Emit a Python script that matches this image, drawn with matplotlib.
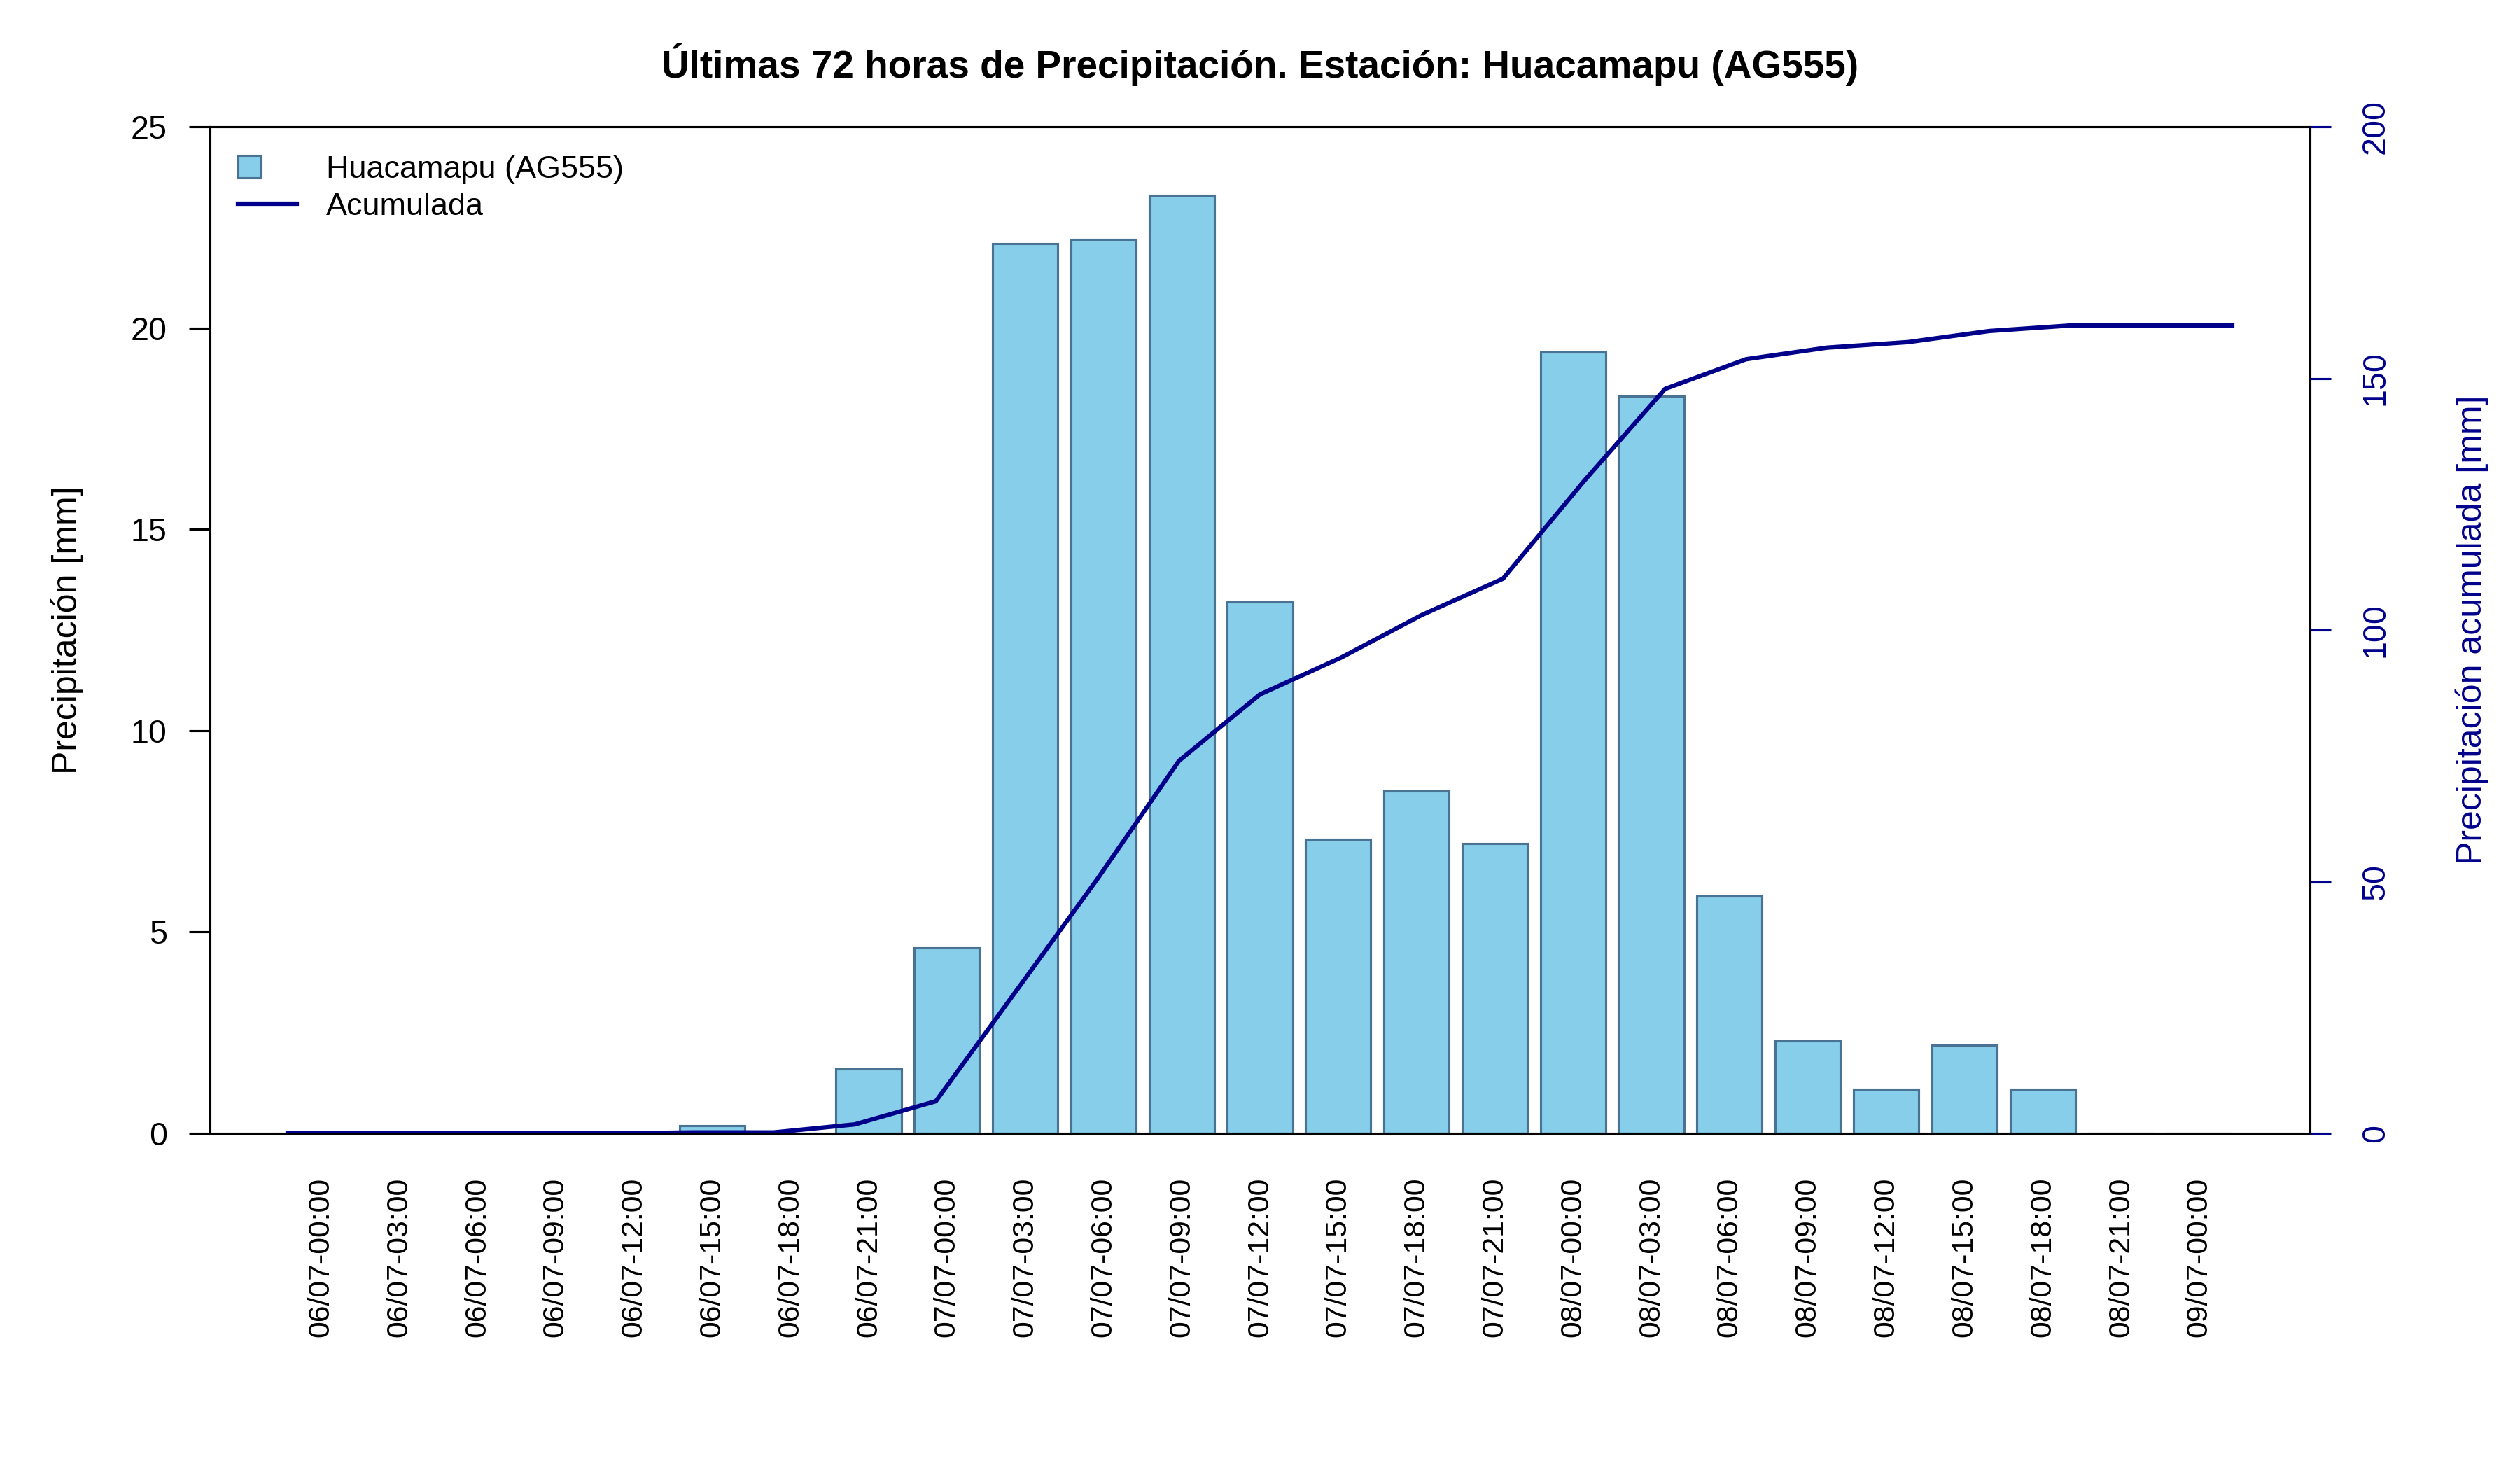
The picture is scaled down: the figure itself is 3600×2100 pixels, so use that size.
import numpy as np
import matplotlib
matplotlib.use('Agg')
from matplotlib import pyplot as plt
from matplotlib import patches as mpatches
from matplotlib.lines import Line2D
from matplotlib.legend_handler import HandlerPatch

# 3-hourly precipitation, mm
labels = ['06/07-00:00', '06/07-03:00', '06/07-06:00', '06/07-09:00', '06/07-12:00',
          '06/07-15:00', '06/07-18:00', '06/07-21:00', '07/07-00:00', '07/07-03:00',
          '07/07-06:00', '07/07-09:00', '07/07-12:00', '07/07-15:00', '07/07-18:00',
          '07/07-21:00', '08/07-00:00', '08/07-03:00', '08/07-06:00', '08/07-09:00',
          '08/07-12:00', '08/07-15:00', '08/07-18:00', '08/07-21:00', '09/07-00:00']
precip = [0, 0, 0, 0, 0, 0.2, 0, 1.6, 4.6, 22.1, 22.2, 23.3, 13.2, 7.3, 8.5,
          7.2, 19.4, 18.3, 5.9, 2.3, 1.1, 2.2, 1.1, 0, 0]
accum = [0, 0, 0, 0, 0, 0.2, 0.2, 1.8, 6.4, 28.5, 50.7, 74.0, 87.2, 94.5, 103.0,
         110.2, 129.6, 147.9, 153.8, 156.1, 157.2, 159.4, 160.5, 160.5, 160.5]

station = 'Huacamapu (AG555)'
bar_color = '#87CEEB'
edge_color = '#4a7292'
line_color = '#00008B'

plt.rcParams['font.family'] = ['Liberation Sans', 'DejaVu Sans']


class SquareHandler(HandlerPatch):
    # R-style legend box: small square at the left of the handle area
    def create_artists(self, legend, orig_handle, xdescent, ydescent, width,
                       height, fontsize, trans):
        s = 0.72 * fontsize
        p = mpatches.Rectangle((-xdescent, -ydescent + (height - s) / 2), s, s,
                               facecolor=orig_handle.get_facecolor(),
                               edgecolor=orig_handle.get_edgecolor(),
                               linewidth=orig_handle.get_linewidth(), transform=trans)
        return [p]


fig = plt.figure(figsize=(12, 7), dpi=300)
pos = [0.0833, 0.229, 0.8334, 0.6848]
ax = fig.add_axes(pos)

# barplot layout like R: width 1, space 0.2
n = len(precip)
xb = 0.7 + 1.2 * np.arange(n)
ax.bar(xb, precip, width=1.0, color=bar_color, edgecolor=edge_color, linewidth=0.75)
ax.set_xlim(-1.0, 31.2)
ax.set_ylim(0, 25)
ax.set_yticks([0, 5, 10, 15, 20, 25])
ax.set_xticks(xb)
ax.set_xticklabels(labels, rotation=90, fontsize=10.3)
ax.tick_params(axis='x', length=0, pad=15)
ax.tick_params(axis='y', length=7.2, width=0.75, labelsize=11.2, pad=7.5)
for s in ax.spines.values():
    s.set_linewidth(0.75)
ax.set_ylabel('Precipitación [mm]', fontsize=12, labelpad=16)

# accumulated line on its own axes (like par(new=TRUE))
ax2 = fig.add_axes(pos, frameon=False)
ax2.plot(np.arange(1, n + 1), accum, color=line_color, linewidth=1.5)
ax2.set_xlim(1 - 0.96, n + 0.96)
ax2.set_ylim(0, 200)
ax2.set_xticks([])
ax2.yaxis.tick_right()
ax2.yaxis.set_label_position('right')
ax2.set_yticks([0, 50, 100, 150, 200])
ax2.tick_params(axis='y', length=7.2, width=0.75, colors=line_color, labelsize=11.2,
                pad=10, labelrotation=90)
for t in ax2.get_yticklabels():
    t.set_va('center')
ax2.spines['right'].set_visible(True)
ax2.spines['right'].set_color(line_color)
ax2.spines['right'].set_linewidth(0.75)
ax2.set_ylabel('Precipitación acumulada [mm]', fontsize=12, color=line_color,
               labelpad=22)

handles = [mpatches.Patch(facecolor=bar_color, edgecolor=edge_color, linewidth=0.75),
           Line2D([], [], color=line_color, linewidth=1.5)]
ax2.legend(handles, [station, 'Acumulada'], loc='upper left', frameon=False,
           fontsize=10.8, handlelength=1.85, handletextpad=0.95, labelspacing=0.28,
           borderaxespad=0.6, borderpad=0.3,
           handler_map={mpatches.Patch: SquareHandler()})

fig.suptitle('Últimas 72 horas de Precipitación. Estación: ' + station,
             fontsize=13.2, fontweight='bold', y=0.956, va='center')

fig.savefig('out.png', dpi=300)
